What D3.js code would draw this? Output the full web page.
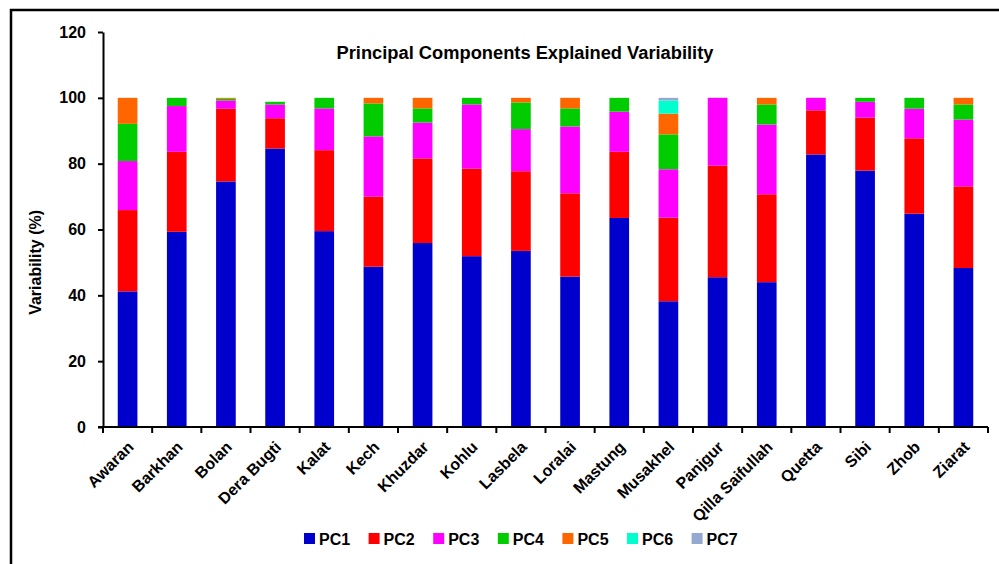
<!DOCTYPE html>
<html>
<head>
<meta charset="utf-8">
<script src="https://cdn.jsdelivr.net/npm/d3@7"></script>
<style>
    body { margin: 0; background: #fff; }
    svg text { font-family: "Liberation Sans", Arial, sans-serif; font-weight: bold; fill: #000; }
    .axis path, .axis line { stroke: #000; stroke-width: 2; }
    .axis text { font-size: 16px; }
</style>
</head>
<body>
<div id="chart"></div>
<script>
// districts along the x axis
var districts = ["Awaran", "Barkhan", "Bolan", "Dera Bugti", "Kalat", "Kech", "Khuzdar", "Kohlu", "Lasbela",
    "Loralai", "Mastung", "Musakhel", "Panjgur", "Qilla Saifullah", "Quetta", "Sibi", "Zhob", "Ziarat"];

// explained variability (%) of each component, one value per district
var pc1 = [41.2, 59.3, 74.6, 84.6, 59.5, 48.7, 55.9, 51.9, 53.5, 45.7, 63.5, 38.2, 45.5, 44.0, 82.8, 77.9, 64.8, 48.3];
var pc2 = [24.7, 24.3, 22.1, 9.2, 24.6, 21.3, 25.7, 26.6, 24.2, 25.3, 20.1, 25.4, 33.9, 26.7, 13.4, 16.1, 22.9, 24.8];
var pc3 = [14.9, 13.9, 2.5, 4.2, 12.7, 18.3, 10.9, 19.5, 12.8, 20.3, 12.2, 14.7, 20.6, 21.2, 3.8, 4.8, 9.0, 20.3];
var pc4 = [11.3, 2.5, 0.5, 0.8, 3.2, 10.0, 4.3, 2.0, 8.1, 5.5, 4.2, 10.6, 0, 6.1, 0, 1.2, 3.3, 4.6];
var pc5 = [7.9, 0, 0.3, 0, 0, 1.7, 3.2, 0, 1.4, 3.2, 0, 6.3, 0, 2.0, 0, 0, 0, 2.0];
var pc6 = [0, 0, 0, 0, 0, 0, 0, 0, 0, 0, 0, 4.0, 0, 0, 0, 0, 0, 0];
var pc7 = [0, 0, 0, 0, 0, 0, 0, 0, 0, 0, 0, 0.8, 0, 0, 0, 0, 0, 0];

var seriesNames = ["PC1", "PC2", "PC3", "PC4", "PC5", "PC6", "PC7"];
var seriesValues = [pc1, pc2, pc3, pc4, pc5, pc6, pc7];
var colors = ["#0000cc", "#ff0000", "#ff00ff", "#00cc00", "#ff6600", "#00ffcc", "#95a9d0"];
var yTicks = [0, 20, 40, 60, 80, 100, 120];

var width = 999, height = 564;
var margin = { top: 32, right: 11, bottom: 137, left: 103 };

var svg = d3.select("#chart").append("svg")
    .attr("width", width)
    .attr("height", height);

// outer frame (only top and left edges are visible in the picture)
svg.append("path")
    .attr("d", "M11," + (height + 5) + "V10H" + (width + 5))
    .attr("fill", "none")
    .attr("stroke", "#000")
    .attr("stroke-width", 2.5);

// build rows for the stack layout
var rows = districts.map(function (name, i) {
    var row = { district: name };
    seriesNames.forEach(function (s, j) { row[s] = seriesValues[j][i]; });
    return row;
});
var stacked = d3.stack().keys(seriesNames)(rows);

var xScale = d3.scaleBand()
    .domain(districts)
    .range([margin.left, width - margin.right])
    .paddingInner(0.6)
    .paddingOuter(0.3);

var yScale = d3.scaleLinear()
    .domain([0, 120])
    .range([height - margin.bottom, margin.top]);

var colorScale = d3.scaleOrdinal().domain(seriesNames).range(colors);

// bars
svg.append("g").selectAll("g")
    .data(stacked)
    .enter().append("g")
    .attr("fill", function (d) { return colorScale(d.key); })
    .selectAll("rect")
    .data(function (d) { return d; })
    .enter().append("rect")
    .attr("x", function (d) { return xScale(d.data.district); })
    .attr("y", function (d) { return yScale(d[1]); })
    .attr("width", xScale.bandwidth())
    .attr("height", function (d) { return yScale(d[0]) - yScale(d[1]); });

// y axis
svg.append("g")
    .attr("class", "axis")
    .attr("transform", "translate(" + margin.left + ",0)")
    .call(d3.axisLeft(yScale).tickValues(yTicks).tickSize(5).tickPadding(12).tickSizeOuter(0));

// x axis: ticks sit on the category boundaries
var step = xScale.step();
var xAxis = svg.append("g")
    .attr("class", "axis")
    .attr("transform", "translate(0," + yScale(0) + ")");
xAxis.append("line")
    .attr("x1", margin.left - 5)
    .attr("x2", width - margin.right)
    .attr("stroke", "#000");
xAxis.selectAll("line.tick")
    .data(d3.range(districts.length + 1))
    .enter().append("line")
    .attr("class", "tick")
    .attr("x1", function (i) { return margin.left + i * step; })
    .attr("x2", function (i) { return margin.left + i * step; })
    .attr("y1", 0)
    .attr("y2", 6);
xAxis.selectAll("text")
    .data(districts)
    .enter().append("text")
    .attr("text-anchor", "end")
    .attr("transform", function (d) {
        return "translate(" + (xScale(d) + xScale.bandwidth() / 2 + 7) + ",21) rotate(-45)";
    })
    .text(function (d) { return d; });

// axis title
svg.append("text")
    .attr("transform", "translate(41," + yScale(50) + ") rotate(-90)")
    .attr("text-anchor", "middle")
    .attr("font-size", 16)
    .text("Variability (%)");

// chart title
svg.append("text")
    .attr("x", 525)
    .attr("y", 59)
    .attr("text-anchor", "middle")
    .attr("font-size", 18.3)
    .text("Principal Components Explained Variability");

// legend
var legend = svg.append("g")
    .attr("transform", "translate(304,533)");
var items = legend.selectAll("g")
    .data(seriesNames)
    .enter().append("g")
    .attr("transform", function (d, i) { return "translate(" + (i * 64.6) + ",0)"; });
items.append("rect")
    .attr("width", 11)
    .attr("height", 11)
    .attr("fill", function (d) { return colorScale(d); });
items.append("text")
    .attr("x", 15)
    .attr("y", 11.5)
    .attr("font-size", 16)
    .text(function (d) { return d; });
</script>
</body>
</html>
